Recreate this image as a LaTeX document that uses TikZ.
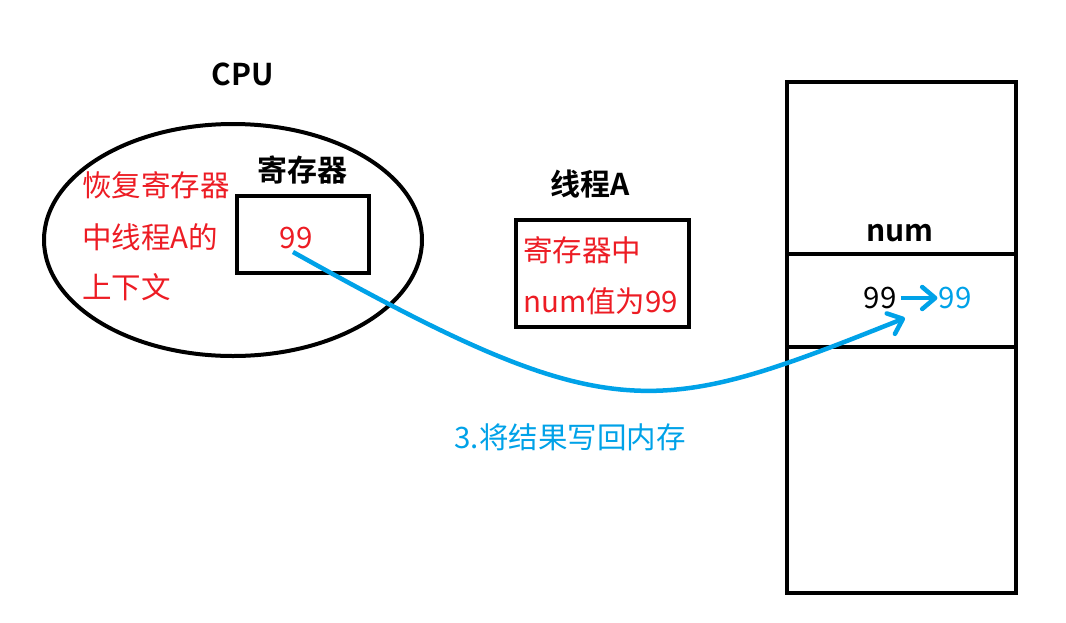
\documentclass[tikz,border=0pt]{standalone}
\usepackage{fontspec}
\setmainfont{Noto Sans CJK SC}[BoldFont={Noto Sans CJK SC Bold}]
\usetikzlibrary{arrows.meta}
\definecolor{pblue}{RGB}{0,162,232}
\definecolor{pred}{RGB}{237,28,36}
\tikzset{
  lbl/.style={font=\fontsize{30}{34}\selectfont\bfseries, inner sep=0pt},
  redtxt/.style={font=\fontsize{29.5}{34}\selectfont, text=pred, inner sep=0pt, anchor=west},
  box/.style={draw=black, line width=4.5pt},
  flow/.style={draw=pblue, line width=4.5pt, -{Straight Barb[length=13pt,width=22pt,round,line width=4.5pt]}},
}
\begin{document}
\begin{tikzpicture}[x=1pt,y=-1pt]
\useasboundingbox[fill=white] (0,0) rectangle (1066,622);
% CPU
\node[lbl] (cpu) at (243,74) {CPU};
\draw[line width=4pt] (233,240) ellipse [x radius=189, y radius=116];
\node[redtxt] (r1) at (82,185) {恢复寄存器};
\node[redtxt] (r2) at (82,237) {中线程A的};
\node[redtxt] (r3) at (82,287) {上下文};
\node[lbl] (reglbl) at (302,170) {寄存器};
\node[box, minimum width=132pt, minimum height=77pt, inner sep=0pt] (reg) at (303,234.5) {};
\node[font=\fontsize{29.5}{34}\selectfont, text=pred, inner sep=0pt] (v1) at (296,238) {99};
% thread A
\node[lbl] (thlbl) at (590,184) {线程A};
\node[box, minimum width=173pt, minimum height=107pt, inner sep=0pt] (th) at (602.5,273.5) {};
\node[redtxt] (t1) at (523,250) {寄存器中};
\node[redtxt] (t2) at (523,301) {num值为99};
% memory
\node[box, minimum width=229pt, minimum height=511pt, inner sep=0pt] (mem) at (901.5,337.5) {};
\coordinate (l1a) at (787,254); \coordinate (l1b) at (1016,254);
\coordinate (l2a) at (787,347); \coordinate (l2b) at (1016,347);
\draw[line width=4.5pt] (l1a) -- (l1b);
\draw[line width=4.5pt] (l2a) -- (l2b);
\node[lbl] (numlbl) at (900,233) {num};
\node[font=\fontsize{29.5}{34}\selectfont, inner sep=0pt] (n1) at (880,298) {99};
\node[font=\fontsize{29.5}{34}\selectfont, text=pblue, inner sep=0pt] (n2) at (955,298) {99};
\draw[flow] (n1.east) ++(4,0) coordinate (na) (na) -- ([xshift=-1pt]n2.west);
% curve
\coordinate (cs) at (293,252);
\coordinate (ce) at (905,318);
\draw[flow] (cs) .. controls (613,431) and (654,418) .. (ce);
\node[font=\fontsize{29.5}{34}\selectfont, text=pblue, inner sep=0pt] (cap) at (570,437) {3.将结果写回内存};
\end{tikzpicture}
\end{document}
